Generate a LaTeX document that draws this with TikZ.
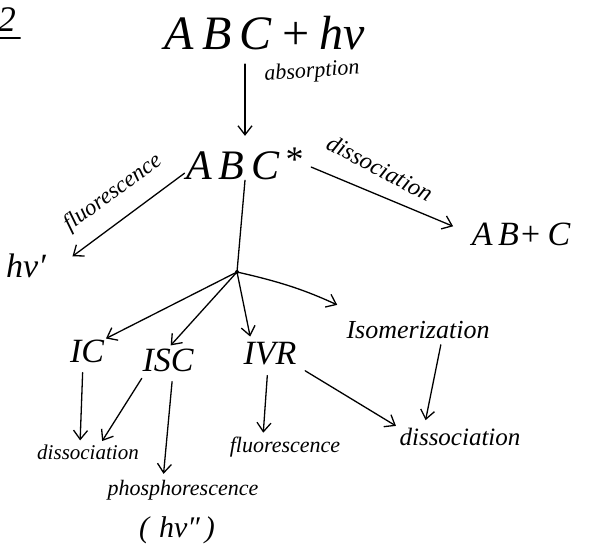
\documentclass[tikz,border=0pt]{standalone}
\usepackage{fontspec}
\setmainfont{Liberation Serif}
\usetikzlibrary{arrows.meta}
\begin{document}
\begin{tikzpicture}[x=1pt,y=-1pt,
  fs/.style={font=\fontsize{#1}{#1}\selectfont\itshape, inner sep=0pt},
  arr/.style={-{Straight Barb[length=9pt,width=14pt]}, line width=1.3pt, line cap=round},
  ln/.style={line width=1.3pt, line cap=round}]
\useasboundingbox (0,0) rectangle (595,550);
% nodes
\node[fs=36] (two) at (7,20) {2};
\node[fs=48] (top) at (265,33) {A\,B\,C\,+\,hν};
\node[fs=42] (exc) at (245,164) {A\,B\,C\raisebox{8pt}{\fontsize{36}{36}\selectfont\upshape\,*}};
\node[fs=34] (hnu1) at (26,266) {hν′};
\node[fs=34] (prod) at (521,234) {A\,B+\,C};
\node[fs=34] (IC) at (87,351) {IC};
\node[fs=34] (ISC) at (168,360) {ISC};
\node[fs=34] (IVR) at (270,354) {IVR};
\node[fs=26] (iso) at (418,330) {Isomerization};
\node[fs=21] (dis1) at (88,452) {dissociation};
\node[fs=22] (phos) at (183,490) {phosphorescence};
\node[fs=30] (hnu2) at (177,530) {(\,\,hν″\,)};
\node[fs=22] (flu) at (285,447) {fluorescence};
\node[fs=25] (dis2) at (460,437) {dissociation};
\coordinate (hub) at (237,272);
% labels
\node[fs=22, rotate=4] (labs) at (312,72) {absorption};
\node[fs=23, rotate=36] (lflu) at (113,193) {fluorescence};
\node[fs=24, rotate=-28] (ldis) at (380,168) {dissociation};
% underline of the 2
\draw[ln] ([xshift=-12pt,yshift=-6pt]two.south west) -- ([xshift=4pt,yshift=-6pt]two.south east);
% connectors
\draw[arr, shorten <=14pt, shorten >=12pt] (top.south -| exc.north) -- (exc.north);
\draw[arr, shorten <=2pt, shorten >=33pt] ([yshift=-8pt]exc.west) -- ([yshift=-10pt]hnu1.east);
\draw[arr, shorten <=8pt, shorten >=20pt] ([yshift=0pt]exc.east) -- (prod.west);
\draw[ln] (exc.south) -- (hub);
\fill (hub) circle (2pt);
\draw[arr, shorten >=2pt] (hub) -- (IC.north east);
\draw[arr, shorten >=4pt] (hub) -- (ISC.north);
\draw[arr, shorten >=6pt] (hub) -- ([xshift=8pt]IVR.north west);
\draw[arr, shorten >=10pt, bend left=6] (hub) to ([yshift=12pt]iso.north west);
\draw[arr, shorten <=10pt, shorten >=4pt] ([xshift=-4pt]IC.south) -- ([xshift=-8pt]dis1.north);
\draw[arr, shorten <=8pt, shorten >=4pt] ([xshift=-22pt]ISC.south) -- ([xshift=12pt]dis1.north);
\draw[arr, shorten <=10pt, shorten >=6pt] ([xshift=5pt]ISC.south) -- ([xshift=-20pt]phos.north);
\draw[arr, shorten <=10pt, shorten >=4pt] ([xshift=-2pt]IVR.south) -- ([xshift=-22pt]flu.north);
\draw[arr, shorten <=10pt, shorten >=4pt] (IVR.south east) -- (dis2.north west);
\draw[arr, shorten <=6pt, shorten >=8pt] ([xshift=24pt]iso.south) -- ([xshift=-36pt]dis2.north);
\end{tikzpicture}
\end{document}
